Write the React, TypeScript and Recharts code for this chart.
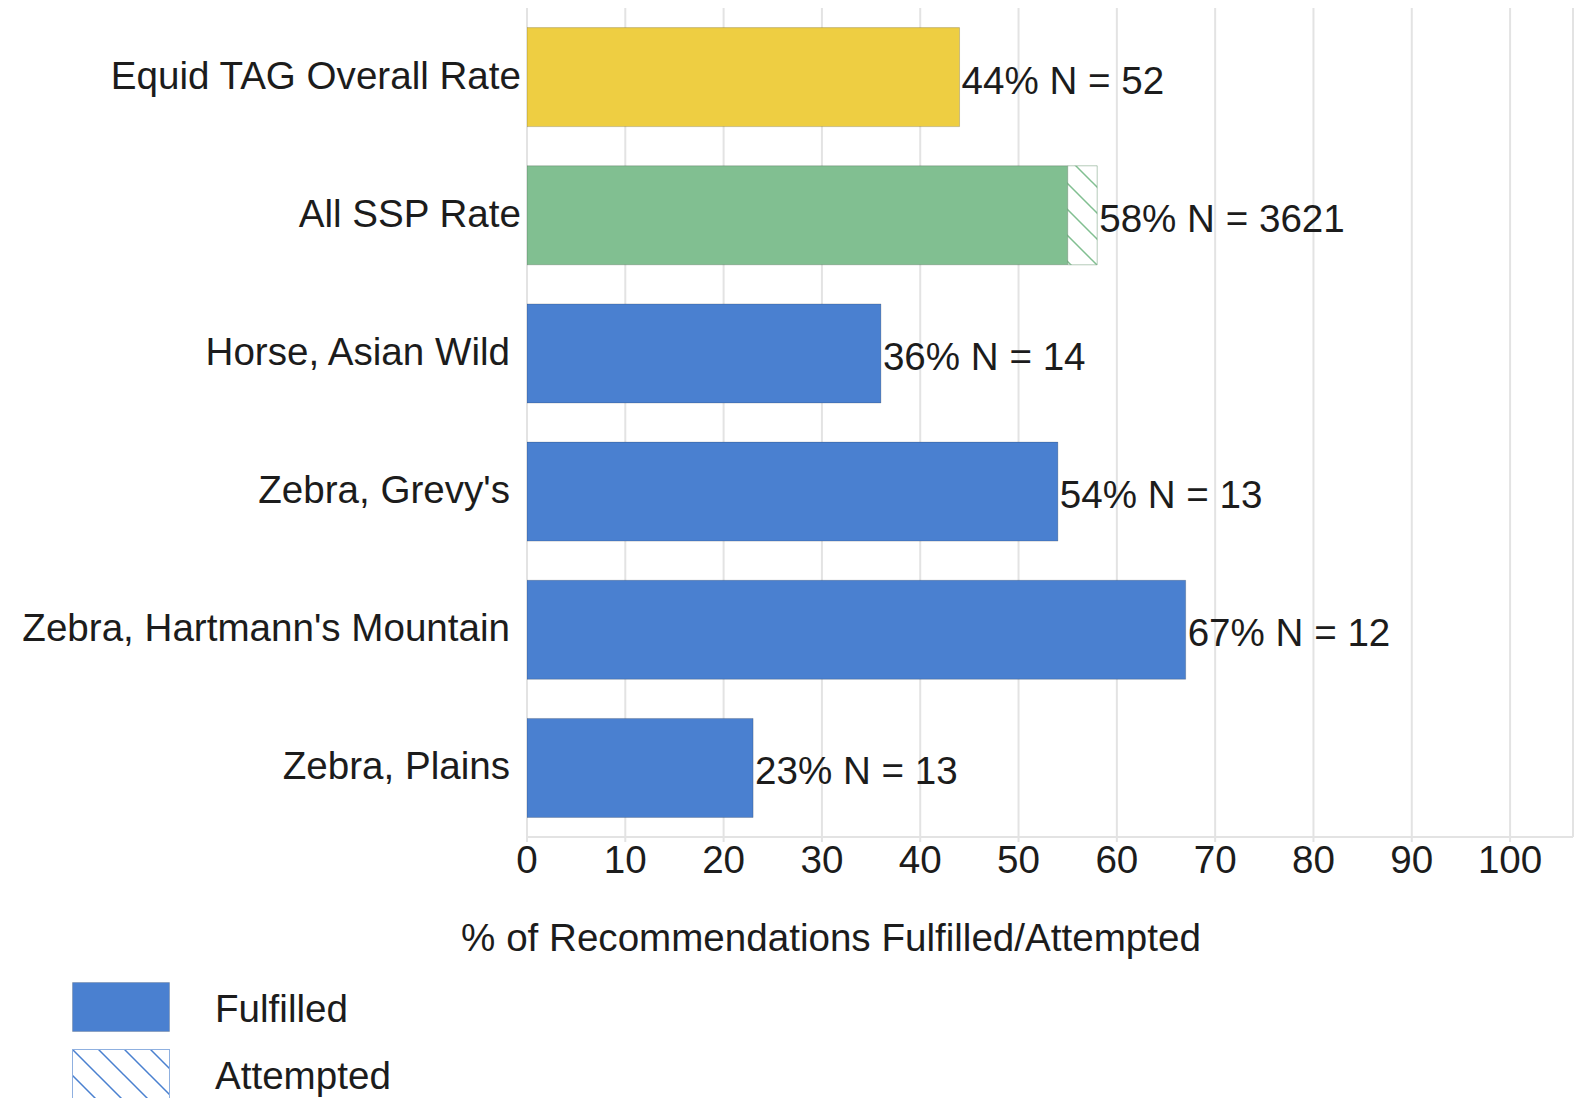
import React from "react";
import { BarChart, Bar, XAxis, YAxis, CartesianGrid, Cell, LabelList, Label } from "recharts";

const categories = [
  "Equid TAG Overall Rate",
  "All SSP Rate",
  "Horse, Asian Wild",
  "Zebra, Grevy's",
  "Zebra, Hartmann's Mountain",
  "Zebra, Plains",
];
const fulfilled = [44, 55, 36, 54, 67, 23];
const attempted = [44, 58, 36, 54, 67, 23];
const sampleSizes = [52, 3621, 14, 13, 12, 13];
const xTicks = [0, 10, 20, 30, 40, 50, 60, 70, 80, 90, 100];

const BLUE = "#4A80D0";
const YELLOW = "#EECE42";
const GREEN = "#81BF91";
const barColors = [YELLOW, GREEN, BLUE, BLUE, BLUE, BLUE];
const hatchIds = ["hatchYellow", "hatchGreen", "hatchBlue", "hatchBlue", "hatchBlue", "hatchBlue"];

const data = categories.map((name, i) => ({
  name,
  fulfilled: fulfilled[i],
  extra: attempted[i] - fulfilled[i],
  label: `${attempted[i]}% N = ${sampleSizes[i]}`,
}));

const FONT = "'Liberation Sans', Arial, Helvetica, sans-serif";
const FS = 38.6;
const TEXT = "#1c1c1c";

const YTick = (props: any) => {
  const { x, y, payload, index } = props;
  const shift = index < 2 ? 0 : -11;
  return (
    <text x={x + shift} y={y - 2} textAnchor="end" dominantBaseline="central" fontSize={FS} fontFamily={FONT} fill={TEXT}>
      {payload.value}
    </text>
  );
};

const ValueLabel = (props: any) => {
  const { x, y, width, height, index, value } = props;
  const i = typeof index === "number" ? index : 0;
  const end = x + (width * attempted[i]) / fulfilled[i];
  return (
    <text x={end + 2} y={y + height / 2 + 3} dominantBaseline="central" fontSize={FS} fontFamily={FONT} fill={TEXT}>
      {value}
    </text>
  );
};

const HatchPattern = ({ id, color }: { id: string; color: string }) => (
  <pattern id={id} patternUnits="userSpaceOnUse" width={26} height={26}>
    <rect x={0} y={0} width={26} height={26} fill="#ffffff" />
    <path d="M-2,-2 L28,28 M-2,24 L2,28 M24,-2 L28,2" stroke={color} strokeWidth={1.5} />
  </pattern>
);

export default function App() {
  return (
    <div style={{ position: "absolute", left: 0, top: 0, width: 1579, height: 1098, background: "#fff", overflow: "hidden" }}>
      <BarChart
        width={1579}
        height={1098}
        data={data}
        layout="vertical"
        margin={{ top: 8, right: 6, bottom: 141, left: 0 }}
        barCategoryGap="14.2%"
      >
        <defs>
          <HatchPattern id="hatchBlue" color={BLUE} />
          <HatchPattern id="hatchGreen" color={GREEN} />
          <HatchPattern id="hatchYellow" color={YELLOW} />
        </defs>
        <CartesianGrid vertical={true} horizontal={false} stroke="#e3e3e3" strokeWidth={2} />
        <XAxis
          type="number"
          domain={[0, 106.4]}
          ticks={xTicks}
          allowDataOverflow
          height={120}
          tickSize={5}
          tickMargin={4}
          axisLine={{ stroke: "#e3e3e3", strokeWidth: 2 }}
          tickLine={{ stroke: "#e3e3e3", strokeWidth: 2 }}
          tick={{ fontSize: FS, fontFamily: FONT, fill: TEXT }}
        >
          <Label
            content={(p: any) => (
              <text x={831} y={p.viewBox.y + 114} textAnchor="middle" fontSize={FS} fontFamily={FONT} fill={TEXT}>
                % of Recommendations Fulfilled/Attempted
              </text>
            )}
          />
        </XAxis>
        <YAxis
          type="category"
          dataKey="name"
          width={527}
          axisLine={false}
          tickLine={false}
          tickSize={0}
          tickMargin={6}
          interval={0}
          tick={<YTick />}
        />
        <Bar dataKey="fulfilled" stackId="a" isAnimationActive={false}>
          {data.map((d, i) => (
            <Cell key={d.name} fill={barColors[i]} stroke="rgba(0,0,0,0.18)" strokeWidth={1} />
          ))}
          <LabelList dataKey="label" content={<ValueLabel />} />
        </Bar>
        <Bar dataKey="extra" stackId="a" isAnimationActive={false}>
          {data.map((d, i) => (
            <Cell key={d.name} fill={`url(#${hatchIds[i]})`} stroke="rgba(90,140,100,0.45)" strokeWidth={1} />
          ))}
        </Bar>
      </BarChart>
      <div style={{ position: "absolute", left: 72, top: 982, fontFamily: FONT, fontSize: FS, color: TEXT }}>
        <div style={{ display: "flex", alignItems: "center", height: 50 }}>
          <svg width={98} height={50} style={{ display: "block" }}>
            <rect x={0.5} y={0.5} width={97} height={49} fill={BLUE} stroke="rgba(0,0,0,0.15)" />
          </svg>
          <span style={{ marginLeft: 45, lineHeight: "50px", position: "relative", top: 2 }}>Fulfilled</span>
        </div>
        <div style={{ display: "flex", alignItems: "center", height: 50, marginTop: 17 }}>
          <svg width={98} height={50} style={{ display: "block" }}>
            <defs>
              <HatchPattern id="hatchLegend" color={BLUE} />
            </defs>
            <rect x={0.5} y={0.5} width={97} height={60} fill="url(#hatchLegend)" stroke="#8fb0e0" />
          </svg>
          <span style={{ marginLeft: 45, lineHeight: "50px", position: "relative", top: 2 }}>Attempted</span>
        </div>
      </div>
    </div>
  );
}
